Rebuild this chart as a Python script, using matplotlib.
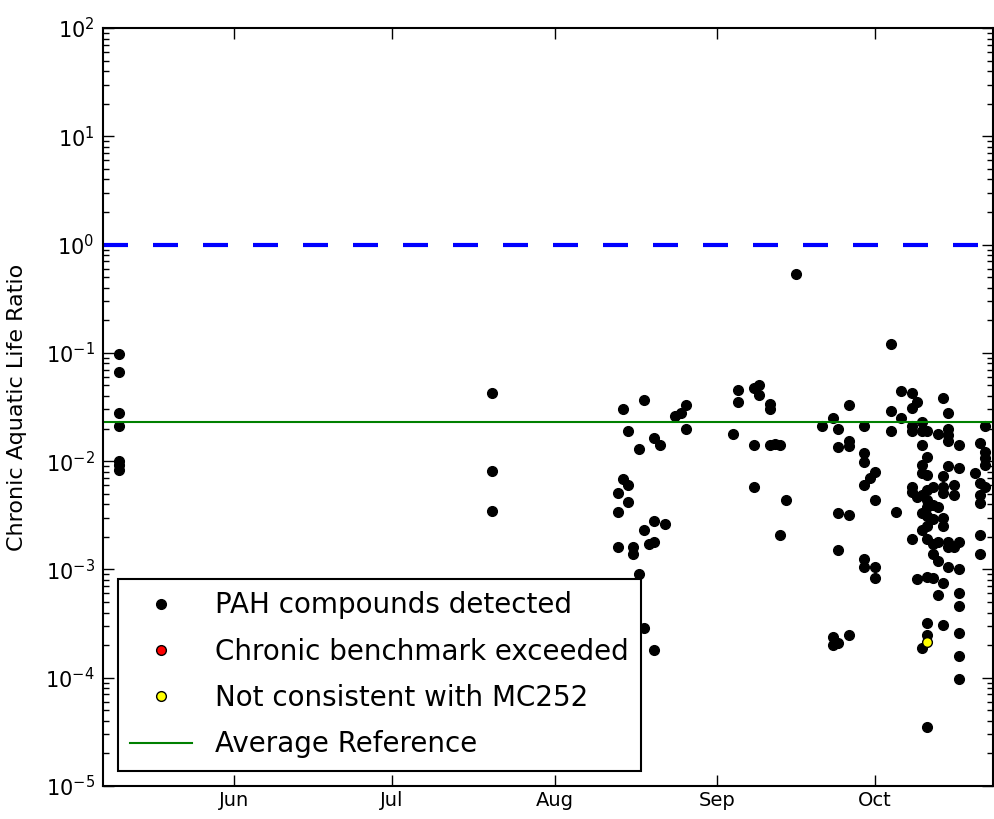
import datetime as dt
import matplotlib
matplotlib.use("Agg")
import matplotlib.pyplot as plt
import matplotlib.dates as mdates
from matplotlib.ticker import LogLocator

# sampling dates (2010) and the PAH chronic ratios measured on each date
sample_dates = ["05-10", "07-20",
                "08-13", "08-14", "08-15", "08-16", "08-17", "08-18", "08-19",
                "08-20", "08-21", "08-22", "08-24", "08-25", "08-26",
                "09-04", "09-05", "09-08", "09-09", "09-11", "09-12", "09-13",
                "09-14", "09-16", "09-21", "09-23", "09-24", "09-26", "09-29",
                "09-30", "10-01", "10-04", "10-05", "10-06", "10-08", "10-09",
                "10-10", "10-11", "10-12", "10-13", "10-14", "10-15", "10-16",
                "10-17", "10-20", "10-21", "10-22"]
ratios = [
    [0.098, 0.066, 0.028, 0.021, 0.010, 0.0092, 0.0083],
    [0.043, 0.0081, 0.0035],
    [0.0051, 0.0034, 0.0016],
    [0.030, 0.0068],
    [0.019, 0.0060, 0.0042],
    [0.0016, 0.0014],
    [0.013, 0.0009],
    [0.037, 0.0023, 0.00029],
    [0.0017],
    [0.0165, 0.0028, 0.0018, 0.00018],
    [0.014],
    [0.0026],
    [0.026],
    [0.028],
    [0.033, 0.020],
    [0.018],
    [0.045, 0.035],
    [0.047, 0.014, 0.0058],
    [0.051, 0.041],
    [0.034, 0.030, 0.014],
    [0.0144],
    [0.014, 0.0021],
    [0.0044],
    [0.54],
    [0.021],
    [0.025, 0.00024, 0.0002],
    [0.020, 0.0134, 0.0033, 0.0015, 0.00021],
    [0.033, 0.0155, 0.0138, 0.0032, 0.00025],
    [0.021, 0.0118, 0.0099, 0.006, 0.00126, 0.00106],
    [0.0070],
    [0.0080, 0.0044, 0.00105, 0.00083],
    [0.12, 0.029, 0.019],
    [0.0034],
    [0.044, 0.025],
    [0.043, 0.031, 0.021, 0.019, 0.0058, 0.0052, 0.0019],
    [0.035, 0.0047, 0.00082],
    [0.023, 0.019, 0.0142, 0.0093, 0.0077, 0.0049, 0.0033, 0.0023, 0.00019],
    [0.019, 0.011, 0.0075, 0.0054, 0.0044, 0.0038, 0.0031, 0.0025, 0.0019,
     0.00085, 0.00032, 0.00025, 0.000035],
    [0.0058, 0.0039, 0.0029, 0.0017, 0.0014, 0.00083],
    [0.018, 0.0038, 0.0018, 0.0012, 0.00058],
    [0.038, 0.0073, 0.0058, 0.0051, 0.003, 0.0025, 0.00075, 0.00031],
    [0.028, 0.020, 0.0175, 0.0152, 0.009, 0.0018, 0.0016, 0.00105],
    [0.006, 0.0049, 0.0016],
    [0.014, 0.0087, 0.0018, 0.001, 0.0006, 0.00046, 0.00026, 0.00016, 0.000097],
    [0.0078],
    [0.0146, 0.0063, 0.0049, 0.0041, 0.0021, 0.0014],
    [0.021, 0.0122, 0.0106, 0.0093, 0.0058],
]

# chronic benchmark exceeded: none
exceed_dates = []
exceed_ratios = []

# not consistent with MC252
noncons_dates = ["10-11"]
noncons_ratios = [0.000215]

benchmark = 1.0
avg_reference = 0.023


def to_date(s):
    m, d = s.split("-")
    return dt.datetime(2010, int(m), int(d))


pah_x = []
pah_y = []
for d, vals in zip(sample_dates, ratios):
    for v in vals:
        pah_x.append(to_date(d))
        pah_y.append(v)

fig = plt.figure(figsize=(9.94, 8.19), dpi=100)
ax = fig.add_axes([0.1036, 0.0403, 0.8954, 0.9255])

ax.plot(pah_x, pah_y, "o", color="black", markersize=7,
        label="PAH compounds detected")
ax.plot([to_date(d) for d in exceed_dates], exceed_ratios, "o",
        markerfacecolor="red", markeredgecolor="black", markersize=7,
        label="Chronic benchmark exceeded")
ax.plot([to_date(d) for d in noncons_dates], noncons_ratios, "o",
        markerfacecolor="yellow", markeredgecolor="black", markersize=7,
        label="Not consistent with MC252")
ax.axhline(benchmark, color="blue", linestyle="--", linewidth=3, dashes=(6, 6))
ax.axhline(avg_reference, color="green", linewidth=1.5, label="Average Reference")

ax.set_yscale("log")
ax.set_ylim(1e-5, 1e2)
ax.set_xlim(dt.datetime(2010, 5, 7), dt.datetime(2010, 10, 23, 12))
ax.yaxis.set_minor_locator(LogLocator(base=10, subs=range(2, 10)))
ax.xaxis.set_major_locator(mdates.MonthLocator())
ax.xaxis.set_major_formatter(mdates.DateFormatter("%b"))

ax.tick_params(which="both", direction="in", top=True, right=True)
ax.tick_params(which="major", length=8, width=1)
ax.tick_params(which="minor", length=4, width=1)
ax.tick_params(axis="y", labelsize=15, pad=6)
ax.tick_params(axis="x", labelsize=14)
for sp in ax.spines.values():
    sp.set_linewidth(1.5)

ax.set_ylabel("Chronic Aquatic Life Ratio", fontsize=16)
ax.yaxis.set_label_coords(-0.085, 0.5)

leg = ax.legend(loc="lower left", numpoints=1, fontsize=20, fancybox=False,
                framealpha=1, edgecolor="black", borderpad=0.45,
                labelspacing=0.66, handlelength=2.2, handletextpad=0.85,
                borderaxespad=0, bbox_to_anchor=(15 / 890, 15 / 758))
leg.get_frame().set_linewidth(1.5)

fig.savefig("out.png", dpi=100)
